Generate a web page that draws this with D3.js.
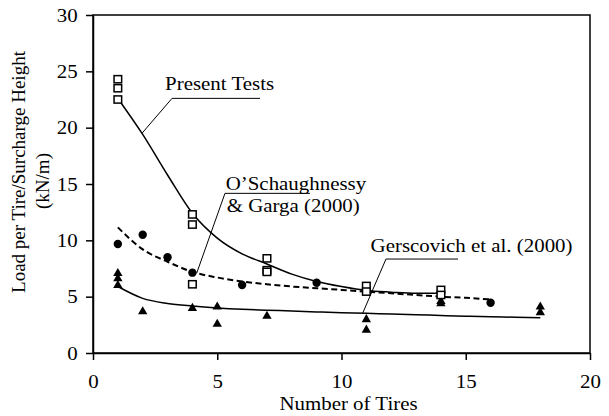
<!DOCTYPE html>
<html>
<head>
<meta charset="utf-8">
<script src="https://cdn.jsdelivr.net/npm/d3@7"></script>
<style>
    body { margin: 0; background: #fff; }
    svg text { font-family: "Liberation Serif", "Times New Roman", serif; fill: #000; }
</style>
</head>
<body>
<svg class="chart"></svg>
<script>
// chart dimensions
var width = 609;
var height = 416;
var margin = {top: 15, right: 19, bottom: 63, left: 93};
var w = width - margin.left - margin.right;
var h = height - margin.top - margin.bottom;
var fontSize = 19;
var stretch = "scale(1.1,1)";

// Present Tests (open squares)
var presentX = [1, 1, 1, 4, 4, 4, 7, 7, 7, 11, 11, 14, 14];
var presentY = [24.3, 23.5, 22.5, 12.3, 11.4, 6.1, 8.4, 7.35, 7.2, 5.95, 5.45, 5.6, 5.15];
// O'Schaughnessy & Garga (2000) (filled circles)
var oscX = [1, 2, 3, 4, 6, 9, 16];
var oscY = [9.67, 10.5, 8.5, 7.13, 6.03, 6.24, 4.46];
// Gerscovich et al. (2000) (filled triangles)
var gerX = [1, 1, 1, 2, 4, 5, 5, 7, 11, 11, 14, 14, 18, 18];
var gerY = [7.07, 6.6, 6.0, 3.67, 3.97, 4.1, 2.57, 3.28, 2.98, 2.04, 4.6, 4.4, 4.1, 3.6];

// trend lines
var presentFitX = [1, 2, 3, 4, 5, 6, 7, 8, 9, 10, 11, 12, 13, 14];
var presentFitY = [22.6, 19.4, 15.8, 12.4, 10.2, 8.8, 7.9, 7.0, 6.35, 5.9, 5.55, 5.4, 5.3, 5.3];
var oscFitX = [1, 2, 3, 4, 5, 6, 7, 8, 9, 10, 11, 12, 13, 14, 15, 16];
var oscFitY = [11.15, 9.2, 8.1, 7.2, 6.7, 6.35, 6.1, 5.9, 5.75, 5.6, 5.45, 5.3, 5.15, 5.0, 4.9, 4.75];
var gerFitX = [1, 2, 3, 4, 5, 6, 7, 8, 9, 10, 11, 12, 13, 14, 15, 16, 17, 18];
var gerFitY = [5.9, 4.85, 4.4, 4.17, 4.0, 3.88, 3.8, 3.73, 3.65, 3.58, 3.52, 3.46, 3.4, 3.33, 3.27, 3.22, 3.17, 3.12];

var xTicks = [0, 5, 10, 15, 20];
var yTicks = [0, 5, 10, 15, 20, 25, 30];

var svg = d3.select(".chart")
    .attr("width", width)
    .attr("height", height);

var chart = svg.append("g")
    .attr("transform", "translate(" + margin.left + "," + margin.top + ")");

var x = d3.scaleLinear().domain([0, 20]).range([0, w]);
var y = d3.scaleLinear().domain([0, 30]).range([h, 0]);

function zip(xs, ys) {
    return xs.map(function(d, i) { return [d, ys[i]]; });
}

// frame
chart.append("rect")
    .attr("width", w)
    .attr("height", h)
    .style("fill", "none")
    .style("stroke", "#000")
    .style("stroke-width", 1.5);

// axes
var xAxis = chart.append("g")
    .attr("transform", "translate(0," + h + ")")
    .call(d3.axisBottom(x).tickValues(xTicks).tickSize(7).tickSizeOuter(0).tickPadding(15));
var yAxis = chart.append("g")
    .call(d3.axisLeft(y).tickValues(yTicks).tickSize(7).tickSizeOuter(0).tickPadding(7));

[xAxis, yAxis].forEach(function(a) {
    a.attr("font-family", null).attr("font-size", null);
    a.select(".domain").style("stroke-width", 1.5);
    a.selectAll(".tick line").style("stroke-width", 1.5);
    a.selectAll("text")
        .style("font-size", fontSize + "px")
        .attr("transform", stretch);
});

// axis titles
chart.append("text")
    .attr("transform", "translate(" + (x(10) + 7) + "," + (h + 56.5) + ") " + stretch)
    .style("text-anchor", "middle")
    .style("font-size", fontSize + "px")
    .text("Number of Tires");

chart.append("text")
    .attr("transform", "translate(" + (25 - margin.left) + "," + 157 + ") rotate(-90)")
    .style("text-anchor", "middle")
    .style("font-size", fontSize + "px")
    .text("Load per Tire/Surcharge Height");

chart.append("text")
    .attr("transform", "translate(" + (49 - margin.left) + "," + 166 + ") rotate(-90)")
    .style("text-anchor", "middle")
    .style("font-size", fontSize + "px")
    .text("(kN/m)");

// trend lines
var line = d3.line()
    .x(function(d) { return x(d[0]); })
    .y(function(d) { return y(d[1]); })
    .curve(d3.curveMonotoneX);

chart.append("path")
    .datum(zip(presentFitX, presentFitY))
    .attr("d", line)
    .style("fill", "none")
    .style("stroke", "#000")
    .style("stroke-width", 1.5);

chart.append("path")
    .datum(zip(oscFitX, oscFitY))
    .attr("d", line)
    .style("fill", "none")
    .style("stroke", "#000")
    .style("stroke-width", 2)
    .style("stroke-dasharray", "6,3.5");

chart.append("path")
    .datum(zip(gerFitX, gerFitY))
    .attr("d", line)
    .style("fill", "none")
    .style("stroke", "#000")
    .style("stroke-width", 1.5);

// leader lines and labels (data coordinates)
var leaders = [
    [[6.72, 22.6], [3.18, 22.6], [1.97, 19.5]],
    [[8.73, 14.17], [5.31, 14.17], [4.17, 7.07]],
    [[14.69, 8.34], [11.79, 8.34], [10.85, 3.52]]
];
var straight = d3.line()
    .x(function(d) { return x(d[0]); })
    .y(function(d) { return y(d[1]); });

leaders.forEach(function(l) {
    chart.append("path")
        .attr("d", straight(l))
        .style("fill", "none")
        .style("stroke", "#000")
        .style("stroke-width", 1);
});

var labels = [
    {t: "Present Tests", x: 2.9, y: 23.3},
    {t: "O\u2019Schaughnessy", x: 5.34, y: 14.5},
    {t: "& Garga (2000)", x: 5.38, y: 12.5},
    {t: "Gerscovich et al. (2000)", x: 11.17, y: 8.99}
];
chart.selectAll(".label")
    .data(labels)
    .enter().append("text")
    .attr("class", "label")
    .attr("transform", function(d) { return "translate(" + x(d.x) + "," + y(d.y) + ") " + stretch; })
    .style("font-size", fontSize + "px")
    .text(function(d) { return d.t; });

// markers
chart.selectAll(".tri")
    .data(zip(gerX, gerY))
    .enter().append("path")
    .attr("class", "tri")
    .attr("d", d3.symbol().type(d3.symbolTriangle).size(38))
    .attr("transform", function(d) { return "translate(" + x(d[0]) + "," + y(d[1]) + ")"; })
    .style("fill", "#000");

chart.selectAll(".dot")
    .data(zip(oscX, oscY))
    .enter().append("circle")
    .attr("class", "dot")
    .attr("cx", function(d) { return x(d[0]); })
    .attr("cy", function(d) { return y(d[1]); })
    .attr("r", 4.2)
    .style("fill", "#000");

chart.selectAll(".sq")
    .data(zip(presentX, presentY))
    .enter().append("rect")
    .attr("class", "sq")
    .attr("x", function(d) { return x(d[0]) - 3.8; })
    .attr("y", function(d) { return y(d[1]) - 3.6; })
    .attr("width", 7.6)
    .attr("height", 7.2)
    .style("fill", "#fff")
    .style("stroke", "#000")
    .style("stroke-width", 1.5);
</script>
</body>
</html>
